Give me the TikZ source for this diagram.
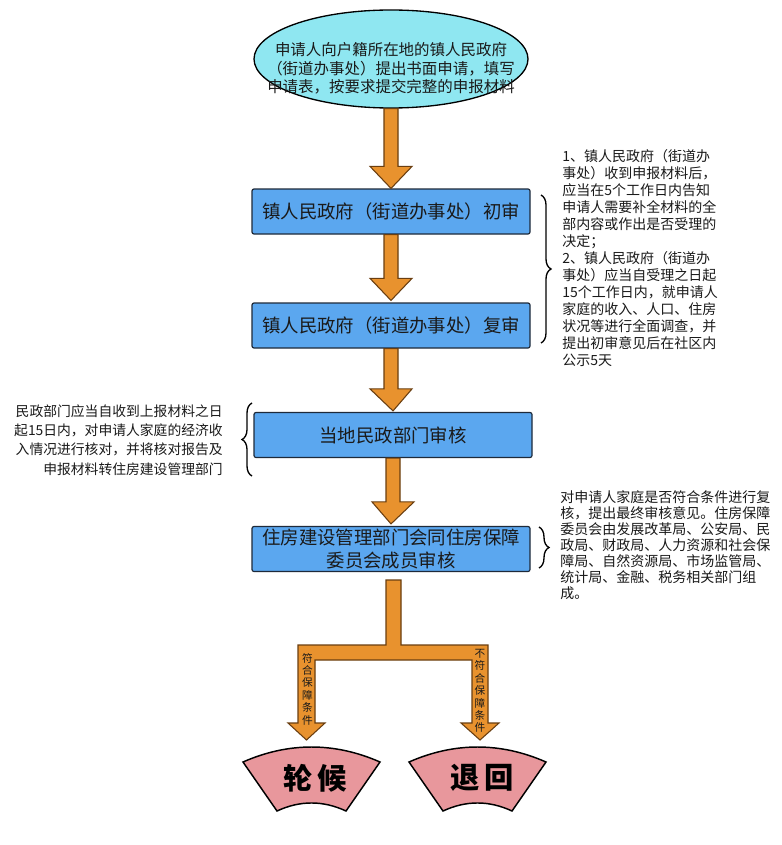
\documentclass[tikz,border=0pt]{standalone}
\usepackage{fontspec}
\setmainfont{Noto Sans CJK SC}
\usetikzlibrary{shapes.geometric,calc,decorations.pathreplacing}
\definecolor{ellfill}{HTML}{8FE7F1}
\definecolor{boxfill}{HTML}{5BA7EF}
\definecolor{boxline}{HTML}{1E2A3A}
\definecolor{arrfill}{HTML}{E8922E}
\definecolor{arrline}{HTML}{6A3E10}
\definecolor{fanfill}{HTML}{E8979C}
\definecolor{txt}{HTML}{1A1A1A}
\newcommand\fatarrow[2]{%
  \draw[arrowstyle] let \p1=(#1), \p2=(#2) in
    (\x1-5.25pt,\y1) -- (\x1-5.25pt,\y2+16.5pt) -- (\x1-15.75pt,\y2+16.5pt) -- (\x2,\y2)
    -- (\x1+15.75pt,\y2+16.5pt) -- (\x1+5.25pt,\y2+16.5pt) -- (\x1+5.25pt,\y1) -- cycle;}
\newcommand\fanshape[1]{%
  \begin{scope}[shift={(#1,0)}]
    \draw[fanstyle] (-68.5,762) .. controls (-23,742) and (23,742) .. (68.5,762)
      -- (34.5,811) .. controls (11.5,800.3) and (-11.5,800.3) .. (-34.5,811) -- cycle;
  \end{scope}}
\begin{document}
\begin{tikzpicture}[x=0.75pt,y=-0.75pt,
  stepbox/.style={draw=boxline, line width=0.9pt, fill=boxfill, rounded corners=1.5pt,
    minimum width=208.5pt, minimum height=33.75pt, inner sep=0pt, text=txt,
    align=center, font=\fontsize{13.8}{17.25}\selectfont},
  arrowstyle/.style={fill=arrfill, draw=arrline, line width=0.8pt, line join=miter},
  fanstyle/.style={fill=fanfill, draw=black, line width=1.1pt, line join=miter},
  notetext/.style={inner sep=0pt, text=txt},
  bracestyle/.style={decorate, decoration={brace, amplitude=7.5pt}, draw=black, line width=1pt},
  vlabel/.style={inner sep=0pt, text=txt, align=center, font=\fontsize{8}{9.3}\selectfont},
  fantext/.style={inner sep=0pt, text=black, font=\fontsize{22}{24}\selectfont\bfseries}]
\useasboundingbox (0,0) rectangle (781,845);
\fill[white] (0,0) rectangle (781,845);

% start ellipse
\node[ellipse, draw=black, line width=1pt, fill=ellfill, minimum width=205.5pt,
  minimum height=73.5pt, inner sep=0pt] (start) at (391,59) {};
\node[notetext, align=center, font=\fontsize{11.6}{13.9}\selectfont] (starttext) at (391,68.5)
  {申请人向户籍所在地的镇人民政府\\（街道办事处）提出书面申请，填写\\申请表，按要求提交完整的申报材料};

% boxes
\node[stepbox] (b1) at (391,211.5) {镇人民政府（街道办事处）初审};
\node[stepbox] (b2) at (391,325.5) {镇人民政府（街道办事处）复审};
\node[stepbox] (b3) at (393,435) {当地民政部门审核};
\node[stepbox] (b4) at (391,549) {住房建设管理部门会同住房保障\\委员会成员审核};

% arrows
\fatarrow{start.south}{b1.north}
\fatarrow{b1.south}{$(b2.north)+(0,-2)$}
\fatarrow{b2.south}{$(b3.north)+(0,-1)$}
\fatarrow{b3.south}{$(b4.north)+(0,-2)$}

% split arrow
\draw[arrowstyle] (386,580) -- (401,580) -- (401,645) -- (488,645) -- (488,723) -- (499,723)
  -- (480,740) -- (461,723) -- (472,723) -- (472,660) -- (315,660) -- (315,723) -- (325,723)
  -- (306.5,740) -- (288,723) -- (298,723) -- (298,645) -- (386,645) -- cycle;
\node[vlabel] (lab1) at (307.5,689) {符\\合\\保\\障\\条\\件};
\node[vlabel] (lab2) at (480,691) {不\\符\\合\\保\\障\\条\\件};

% fans
\fanshape{311.5}
\fanshape{477.5}
\node[fantext] (lunhou) at (315,778) {轮\hspace{4pt}候};
\node[fantext] (tuihui) at (482,778) {退\hspace{4pt}回};

% braces
\draw[bracestyle] (541,195) -- (541,343);
\draw[bracestyle] (252,476) -- (252,403);
\draw[bracestyle] (539,527) -- (539,568);

% notes
\node[notetext, anchor=west, align=left, font=\fontsize{10.5}{12.75}\selectfont] (note1) at (562,258.5)
  {1、镇人民政府（街道办\\事处）收到申报材料后，\\应当在5个工作日内告知\\申请人需要补全材料的全\\部内容或作出是否受理的\\决定；\\2、镇人民政府（街道办\\事处）应当自受理之日起\\15个工作日内，就申请人\\家庭的收入、人口、住房\\状况等进行全面调查，并\\提出初审意见后在社区内\\公示5天};
\node[notetext, anchor=east, align=right, font=\fontsize{10.35}{14.5}\selectfont] (note2) at (223,440)
  {民政部门应当自收到上报材料之日\\起15日内，对申请人家庭的经济收\\入情况进行核对，并将核对报告及\\申报材料转住房建设管理部门};
\node[notetext, anchor=west, align=left, font=\fontsize{10.5}{12}\selectfont] (note3) at (560,545)
  {对申请人家庭是否符合条件进行复\\核，提出最终审核意见。住房保障\\委员会由发展改革局、公安局、民\\政局、财政局、人力资源和社会保\\障局、自然资源局、市场监管局、\\统计局、金融、税务相关部门组\\成。};
\end{tikzpicture}
\end{document}
